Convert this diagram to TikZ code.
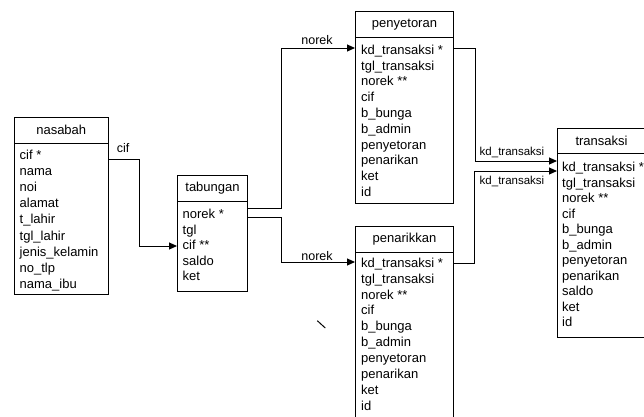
\documentclass[tikz,border=0pt]{standalone}
\usepackage{fontspec}
\setmainfont{Liberation Sans}
\usetikzlibrary{arrows.meta}
\begin{document}
\begin{tikzpicture}[x=1pt,y=-1pt,
  hdr/.style={draw,line width=1pt,anchor=north west,inner sep=0pt,font=\fontsize{13}{15.8}\selectfont},
  bodybox/.style={draw,line width=1pt,anchor=north west,inner sep=0pt},
  rows/.style={anchor=north west,inner sep=0pt,align=left,font=\fontsize{13}{#1}\selectfont},
  conn/.style={line width=1pt,-{Triangle[length=8pt,width=7pt]}},
  lbl/.style={inner sep=0pt,font=\fontsize{12.5}{14}\selectfont},
  slbl/.style={inner sep=0pt,font=\fontsize{11.5}{13}\selectfont}]
\useasboundingbox (0,0) rectangle (644,416);
\fill[white] (0,0) rectangle (644,416);

% nasabah
\node[hdr,minimum width=94.5pt,minimum height=26.5pt] (nasabah) at (13.5,116.5) {nasabah};
\node[bodybox,minimum width=94.5pt,minimum height=151pt] (nasabahB) at (13.5,143) {};
\node[rows=16.1] (nasabahT) at (19.5,149.3) {\rule{0pt}{10pt}cif *\\nama\\noi\\alamat\\t\_lahir\\tgl\_lahir\\jenis\_kelamin\\no\_tlp\\nama\_ibu};

% tabungan
\node[hdr,minimum width=70pt,minimum height=26pt] (tabungan) at (177,175) {tabungan};
\node[bodybox,minimum width=70pt,minimum height=90pt] (tabunganB) at (177,201) {};
\node[rows=15.5] (tabunganT) at (182.5,208.5) {\rule{0pt}{10pt}norek *\\tgl\\cif **\\saldo\\ket};

% penyetoran
\node[hdr,minimum width=98pt,minimum height=25.5pt] (penyetoran) at (355,11) {penyetoran};
\node[bodybox,minimum width=98pt,minimum height=166.5pt] (penyetoranB) at (355,36.5) {};
\node[rows=15.8] (penyetoranT) at (361,44) {\rule{0pt}{10pt}kd\_transaksi *\\tgl\_transaksi\\norek **\\cif\\b\_bunga\\b\_admin\\penyetoran\\penarikan\\ket\\id};

% penarikkan
\node[hdr,minimum width=98pt,minimum height=26pt] (penarikkan) at (355,226) {penarikkan};
\node[bodybox,minimum width=98pt,minimum height=172pt] (penarikkanB) at (355,252) {};
\node[rows=15.9] (penarikkanT) at (361,257) {\rule{0pt}{10pt}kd\_transaksi *\\tgl\_transaksi\\norek **\\cif\\b\_bunga\\b\_admin\\penyetoran\\penarikan\\ket\\id};

% transaksi
\node[hdr,minimum width=96pt,minimum height=25pt] (transaksi) at (557,128) {\hspace*{-8pt}transaksi};
\node[bodybox,minimum width=96pt,minimum height=184pt] (transaksiB) at (557,153) {};
\node[rows=15.5] (transaksiT) at (562,161.5) {\rule{0pt}{10pt}kd\_transaksi *\\tgl\_transaksi\\norek **\\cif\\b\_bunga\\b\_admin\\penyetoran\\penarikan\\saldo\\ket\\id};

% connectors
\draw[conn] ([yshift=-16pt]nasabahB.north east) -- ++(30,0) |- ([yshift=-45pt]tabunganB.north west);
\draw[conn] ([yshift=-7pt]tabunganB.north east) -- ++(33,0) |- ([yshift=-11.5pt]penyetoranB.north west);
\draw[conn] ([yshift=-16pt]tabunganB.north east) -- ++(33,0) |- ([yshift=-10pt]penarikkanB.north west);
\draw[conn] ([yshift=-11.5pt]penyetoranB.north east) -- ++(21,0) |- ([yshift=-8pt]transaksiB.north west);
\draw[conn] ([yshift=-11pt]penarikkanB.north east) -- ++(20,0) |- ([yshift=-18pt]transaksiB.north west);

% labels
\node[lbl] (lcif) at (123,148) {cif};
\node[lbl] (lnorek1) at (317,40) {norek};
\node[lbl] (lnorek2) at (317,256) {norek};
\node[slbl] (lkd1) at (512,152) {kd\_transaksi};
\node[slbl] (lkd2) at (512,181) {kd\_transaksi};

% stray mark
\draw[line width=1pt] (317.3,320.7) -- (325.3,328);
\end{tikzpicture}
\end{document}
